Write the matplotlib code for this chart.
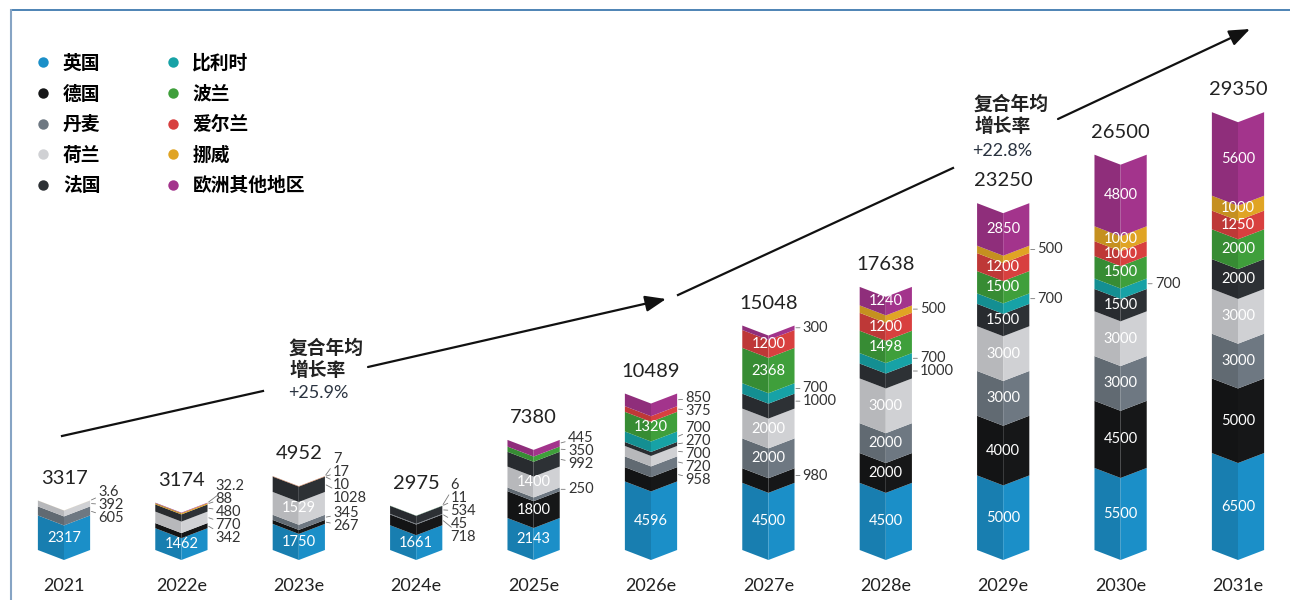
import numpy as np
import matplotlib.pyplot as plt
from matplotlib.patches import Polygon, FancyArrowPatch
from matplotlib.lines import Line2D

plt.rcParams['font.family'] = ['Lato', 'Noto Sans CJK SC', 'DejaVu Sans']

# 年份与国家
years = ['2021', '2022e', '2023e', '2024e', '2025e', '2026e',
         '2027e', '2028e', '2029e', '2030e', '2031e']
countries = ['英国', '德国', '丹麦', '荷兰', '法国',
             '比利时', '波兰', '爱尔兰', '挪威', '欧洲其他地区']
colors = ['#1b8fc8', '#161718', '#6e7882', '#d0d1d4', '#2d3135',
          '#17a2a6', '#3f9f3b', '#d8403f', '#e0a424', '#a3348c']

# 各国装机量 (MW)
uk = [2317, 1462, 1750, 1661, 2143, 4596, 4500, 4500, 5000, 5500, 6500]
de = [0, 342, 267, 718, 1800, 958, 980, 2000, 4000, 4500, 5000]
dk = [605, 0, 345, 45, 250, 720, 2000, 2000, 3000, 3000, 3000]
nl = [392, 770, 1529, 0, 1400, 700, 2000, 3000, 3000, 3000, 3000]
fr = [0, 480, 1028, 534, 992, 270, 1000, 1000, 1500, 1500, 2000]
be = [0, 0, 0, 11, 0, 700, 700, 700, 700, 700, 0]
pl = [0, 0, 0, 0, 350, 1320, 2368, 1498, 1500, 1500, 2000]
ie = [0, 0, 10, 0, 0, 375, 1200, 1200, 1200, 1000, 1250]
no = [3.6, 88, 17, 6, 0, 0, 0, 500, 500, 1000, 1000]
other = [0, 32.2, 7, 0, 445, 850, 300, 1240, 2850, 4800, 5600]
totals = [3317, 3174, 4952, 2975, 7380, 10489, 15048, 17638, 23250, 26500, 29350]

series = [uk, de, dk, nl, fr, be, pl, ie, no, other]

W, H = 1290, 600
fig = plt.figure(figsize=(W / 100, H / 100), dpi=100)
ax_h_px = 540
ymax = 36200
ax = fig.add_axes([0, 50 / H, 1, ax_h_px / H])
ax.set_xlim(-64 / 117.4, (W - 64) / 117.4)
ax.set_ylim(0, ymax)
ax.axis('off')

mw_per_px = ymax / ax_h_px
d = 10 * mw_per_px          # chevron depth
gap = 13 * mw_per_px        # spacing of outside labels
bw = 0.445


def darker(c, f=0.88):
    r, g, b = plt.matplotlib.colors.to_rgb(c)
    return (r * f, g * f, b * f)


def spread(desired, gap):
    # keep labels apart, groups centred on their targets
    groups = [[y] for y in desired]
    while True:
        pos = []
        for g in groups:
            c = np.mean(g)
            n = len(g)
            pos.append([c + (k - (n - 1) / 2) * gap for k in range(n)])
        merged = False
        for i in range(len(groups) - 1):
            if pos[i + 1][0] - pos[i][-1] < gap:
                groups[i] = groups[i] + groups[i + 1]
                del groups[i + 1]
                merged = True
                break
        if not merged:
            return [p for grp in pos for p in grp]


for i, year in enumerate(years):
    xl, xc, xr = i - bw / 2, i, i + bw / 2
    c0 = 0
    outside = []
    for k, s in enumerate(series):
        v = s[i]
        if v <= 0:
            continue
        c1 = c0 + v
        left = [(xl, c0), (xc, c0 - d), (xc, c1 - d), (xl, c1)]
        right = [(xc, c0 - d), (xr, c0), (xr, c1), (xc, c1 - d)]
        ax.add_patch(Polygon(left, closed=True, fc=darker(colors[k]), ec='none',
                             clip_on=False))
        ax.add_patch(Polygon(right, closed=True, fc=colors[k], ec='none',
                             clip_on=False))
        if v >= 1100 or (v >= 1000 and i >= 9):
            ax.text(xc, (c0 + c1) / 2 - d / 2, f'{v:g}', color='white',
                    fontsize=10.5, ha='center', va='center')
        else:
            outside.append((v, (c0 + c1) / 2))
        c0 = c1

    if outside:
        ys = spread([m for _, m in outside], gap)
        for (v, m), y in zip(outside, ys):
            ax.annotate(f'{v:g}', xy=(xr, m), xytext=(xr + 0.07, y),
                        fontsize=10.5, color='#333333', ha='left', va='center',
                        arrowprops=dict(arrowstyle='-', lw=0.6, color='#777777',
                                        shrinkA=0, shrinkB=1))

    ax.annotate(f'{totals[i]}', xy=(xc, totals[i]), xytext=(0, 16),
                textcoords='offset points', ha='center', va='center',
                fontsize=14.5, color='#222222')
    ax.annotate(year, xy=(xc, 0), xytext=(0, -26), textcoords='offset points',
                ha='center', va='center', fontsize=13, color='#222222')

# 图例
handles = [Line2D([], [], marker='o', ls='none', ms=7.5, mfc=c, mec='none')
           for c in colors]
fig.legend(handles, countries, ncol=2, loc='upper left',
           bbox_to_anchor=(17 / W, 1 - 37 / H), frameon=False,
           prop={'family': ['Noto Sans CJK SC'], 'weight': 'bold', 'size': 13.5},
           labelspacing=0.62, handletextpad=0.55, columnspacing=3.35,
           handlelength=1.0)


def fp(x, y):
    return (x / W, 1 - y / H)


# 复合年均增长率箭头
line_kw = dict(color='#111111', lw=1.6)
fig.add_artist(Line2D([62 / W, 263 / W], [1 - 436 / H, 1 - 391 / H], **line_kw))
fig.add_artist(Line2D([678 / W, 953 / W], [1 - 295 / H, 1 - 168 / H], **line_kw))
arrow_kw = dict(arrowstyle='-|>,head_length=0.9,head_width=0.35', color='#111111',
                lw=1.6, shrinkA=0, shrinkB=0)
fig.add_artist(FancyArrowPatch(fp(368, 367), fp(666, 299), transform=fig.transFigure,
                               mutation_scale=14, **arrow_kw))
fig.add_artist(FancyArrowPatch(fp(1058, 119), fp(1250, 29), transform=fig.transFigure,
                               mutation_scale=14, **arrow_kw))

cagr_kw = dict(family=['Noto Sans CJK SC'], weight='bold', fontsize=13.5,
               color='#222222', va='center', ha='left')
fig.text(*fp(289, 348), '复合年均', **cagr_kw)
fig.text(*fp(289, 370), '增长率', **cagr_kw)
fig.text(*fp(288, 393), '+25.9%', fontsize=13, color='#2a3340', va='center')
fig.text(*fp(974, 104), '复合年均', **cagr_kw)
fig.text(*fp(974, 127), '增长率', **cagr_kw)
fig.text(*fp(972, 151), '+22.8%', fontsize=13, color='#2a3340', va='center')

# 边框线
fig.add_artist(Line2D([11 / W, 1], [1 - 10 / H, 1 - 10 / H], color='#2f6ea8', lw=1.2))
fig.add_artist(Line2D([11 / W, 11 / W], [0, 1 - 10 / H], color='#86a4c4', lw=1.5))

fig.savefig('out.png', dpi=100, facecolor='white')
